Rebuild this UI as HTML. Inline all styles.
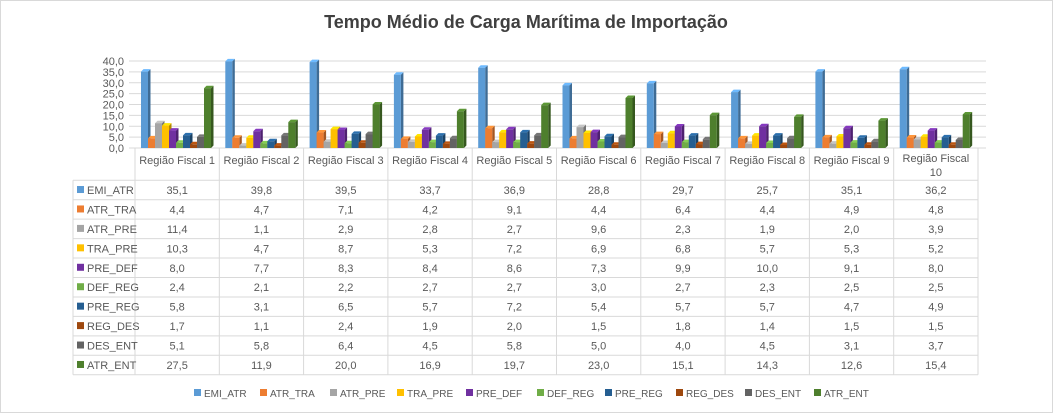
<!DOCTYPE html>
<html><head><meta charset="utf-8"><style>
body{margin:0;background:#fff}
svg text{font-family:"Liberation Sans",sans-serif}
</style></head><body>
<svg id="s" width="1053" height="413" xmlns="http://www.w3.org/2000/svg">
<rect x="0.5" y="0.5" width="1052" height="412" fill="#fff" stroke="#d9d9d9"/>
<text x="526" y="28" text-anchor="middle" font-size="18" font-weight="bold" fill="#404040">Tempo Médio de Carga Marítima de Importação</text>
</svg>
<script>
const s=document.getElementById('s');
const names=["EMI_ATR","ATR_TRA","ATR_PRE","TRA_PRE","PRE_DEF","DEF_REG","PRE_REG","REG_DES","DES_ENT","ATR_ENT"];
const cols=["#5b9bd5","#ed7d31","#a5a5a5","#ffc000","#7030a0","#70ad47","#255e91","#9e480e","#636363","#4e7f2d"];
const d=[[35.1,39.8,39.5,33.7,36.9,28.8,29.7,25.7,35.1,36.2],
[4.4,4.7,7.1,4.2,9.1,4.4,6.4,4.4,4.9,4.8],
[11.4,1.1,2.9,2.8,2.7,9.6,2.3,1.9,2.0,3.9],
[10.3,4.7,8.7,5.3,7.2,6.9,6.8,5.7,5.3,5.2],
[8.0,7.7,8.3,8.4,8.6,7.3,9.9,10.0,9.1,8.0],
[2.4,2.1,2.2,2.7,2.7,3.0,2.7,2.3,2.5,2.5],
[5.8,3.1,6.5,5.7,7.2,5.4,5.7,5.7,4.7,4.9],
[1.7,1.1,2.4,1.9,2.0,1.5,1.8,1.4,1.5,1.5],
[5.1,5.8,6.4,4.5,5.8,5.0,4.0,4.5,3.1,3.7],
[27.5,11.9,20.0,16.9,19.7,23.0,15.1,14.3,12.6,15.4]];
let h='';
const y0=148,k=87/40,cw=84.3,x0=135;
function fmt(v){return v.toFixed(1).replace('.',',');}
for(let t=0;t<=8;t++){const y=y0-t*5*k;
h+=`<line x1="129" y1="${y}" x2="986" y2="${y}" stroke="#d9d9d9"/>`;
h+=`<text x="124" y="${y+4}" text-anchor="end" font-size="11" fill="#595959">${fmt(t*5)}</text>`;}
function shade(c,f){const n=parseInt(c.slice(1),16);let r=n>>16,g=(n>>8)&255,b=n&255;return `rgb(${Math.min(255,r*f|0)},${Math.min(255,g*f|0)},${Math.min(255,b*f|0)})`;}
for(let i=0;i<10;i++)for(let j=0;j<10;j++){
const v=d[j][i],x=x0+i*cw+6+j*7,bh=v*k,y=y0-bh,w=7,dx=2.5,dy=2.5;
h+=`<polygon points="${x+w},${y} ${x+w+dx},${y-dy} ${x+w+dx},${y0-dy} ${x+w},${y0}" fill="${shade(cols[j],0.7)}"/>`;
h+=`<polygon points="${x},${y} ${x+dx},${y-dy} ${x+w+dx},${y-dy} ${x+w},${y}" fill="${shade(cols[j],1.2)}"/>`;
h+=`<rect x="${x}" y="${y}" width="${w}" height="${bh}" fill="${cols[j]}"/>`;}
const rp=19.44,rt=180.3,rb=rt+10*rp;
for(let i=0;i<=10;i++){const x=x0+i*cw;h+=`<line x1="${x}" y1="${y0}" x2="${x}" y2="${rb}" stroke="#d9d9d9"/>`;}
h+=`<line x1="73" y1="${rt}" x2="73" y2="${rb}" stroke="#d9d9d9"/>`;
for(let r=0;r<=10;r++){const y=rt+r*rp;h+=`<line x1="73" y1="${y}" x2="${x0+10*cw}" y2="${y}" stroke="#d9d9d9"/>`;}
for(let i=0;i<10;i++){const cx=x0+i*cw+cw/2;
if(i<9)h+=`<text x="${cx}" y="164" text-anchor="middle" font-size="11" fill="#595959">Região Fiscal ${i+1}</text>`;
else{h+=`<text x="${cx}" y="162" text-anchor="middle" font-size="11" fill="#595959">Região Fiscal</text><text x="${cx}" y="176" text-anchor="middle" font-size="11" fill="#595959">10</text>`;}}
for(let r=0;r<10;r++){const y=rt+r*rp+rp/2+4;
h+=`<rect x="77" y="${y-8}" width="7" height="7" fill="${cols[r]}"/><text x="87" y="${y}" font-size="11" fill="#595959">${names[r]}</text>`;
for(let i=0;i<10;i++)h+=`<text x="${x0+i*cw+cw/2}" y="${y}" text-anchor="middle" font-size="11" fill="#595959">${fmt(d[r][i])}</text>`;}
const lx=[194,260,330,397,466,537,605,676,745,814];
for(let r=0;r<10;r++){h+=`<rect x="${lx[r]}" y="389" width="7" height="7" fill="${cols[r]}"/><text x="${lx[r]+10}" y="397" font-size="10" fill="#595959">${names[r]}</text>`;}
s.insertAdjacentHTML('beforeend',h);
</script>
</body></html>
